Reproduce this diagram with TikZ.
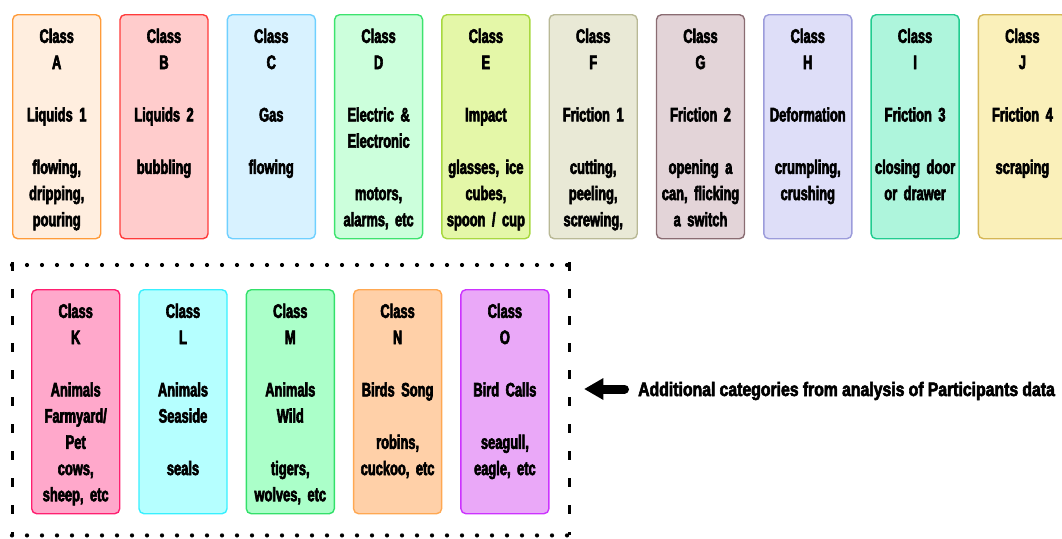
\documentclass[tikz,border=0pt]{standalone}
\usepackage{fontspec}
\newfontfamily\boxfont{Liberation Sans Bold}[FakeStretch=0.66, FakeBold=3]
\newfontfamily\notefont{Liberation Sans Bold}[FakeStretch=0.81, FakeBold=3]
\newcommand\boxtype{\boxfont\fontsize{19.5}{26.2}\selectfont\spaceskip=3.4pt\relax}
\newcommand\notetype{\notefont\fontsize{19.5}{22}\selectfont\spaceskip=4.2pt\relax}

% category colours: fill / border
\definecolor{fA}{HTML}{FFEEDF}\definecolor{sA}{HTML}{FF9B3A}
\definecolor{fB}{HTML}{FFCCCC}\definecolor{sB}{HTML}{FF3B3B}
\definecolor{fC}{HTML}{D8F2FF}\definecolor{sC}{HTML}{6FD0FF}
\definecolor{fD}{HTML}{CCFFDC}\definecolor{sD}{HTML}{3DE36E}
\definecolor{fE}{HTML}{E4F7A8}\definecolor{sE}{HTML}{A8D840}
\definecolor{fF}{HTML}{E9E9D6}\definecolor{sF}{HTML}{B9B996}
\definecolor{fG}{HTML}{E3D4D8}\definecolor{sG}{HTML}{8A6C72}
\definecolor{fH}{HTML}{DEDEF8}\definecolor{sH}{HTML}{9C9CDB}
\definecolor{fI}{HTML}{AEF5DC}\definecolor{sI}{HTML}{22CC90}
\definecolor{fJ}{HTML}{FAF0BA}\definecolor{sJ}{HTML}{D5B655}
\definecolor{fK}{HTML}{FFA8CB}\definecolor{sK}{HTML}{FF1F70}
\definecolor{fL}{HTML}{B5FFFF}\definecolor{sL}{HTML}{38F0FF}
\definecolor{fM}{HTML}{ABFFC9}\definecolor{sM}{HTML}{33E06A}
\definecolor{fN}{HTML}{FFD0A8}\definecolor{sN}{HTML}{FFA852}
\definecolor{fO}{HTML}{EAA8F8}\definecolor{sO}{HTML}{CC33FF}

\tikzset{
  classbox/.style={rectangle, rounded corners=5pt, line width=1.4pt,
    minimum width=88pt, minimum height=224pt, inner sep=0pt, anchor=north west},
  classtext/.style={anchor=north, inner sep=0pt, align=center, text width=88pt,
    font=\boxtype},
  dotline/.style={line width=4.2pt, line cap=round, dash pattern=on 0pt off 15pt},
  dashline/.style={line width=3pt, dash pattern=on 9pt off 18pt},
}

% \catbox{name}{left}{top}{colour key}{lines}
\newcommand\catbox[5]{%
  \node[classbox, fill=f#4, draw=s#4] (b#1) at (#2,#3) {};
  \node[classtext] (t#1) at ([yshift=-14.5pt]b#1.north) {#5};
}

\begin{document}
\begin{tikzpicture}[x=1pt, y=-1pt]
\useasboundingbox (0,0) rectangle (1062,538);

% sound classes from the original taxonomy
\catbox{A}{12}{14}{A}{Class\\A\\[26.2pt]Liquids 1\\[26.2pt]flowing,\\dripping,\\pouring}
\catbox{B}{119.3}{14}{B}{Class\\B\\[26.2pt]Liquids 2\\[26.2pt]bubbling}
\catbox{C}{226.6}{14}{C}{Class\\C\\[26.2pt]Gas\\[26.2pt]flowing}
\catbox{D}{333.9}{14}{D}{Class\\D\\[26.2pt]Electric \&\\Electronic\\[26.2pt]motors,\\alarms, etc}
\catbox{E}{441.2}{14}{E}{Class\\E\\[26.2pt]Impact\\[26.2pt]glasses, ice\\cubes,\\spoon / cup}
\catbox{F}{548.5}{14}{F}{Class\\F\\[26.2pt]Friction 1\\[26.2pt]cutting,\\peeling,\\screwing,}
\catbox{G}{655.8}{14}{G}{Class\\G\\[26.2pt]Friction 2\\[26.2pt]opening a\\can, flicking\\a switch}
\catbox{H}{763.1}{14}{H}{Class\\H\\[26.2pt]Deformation\\[26.2pt]crumpling,\\crushing}
\catbox{I}{870.4}{14}{I}{Class\\I\\[26.2pt]Friction 3\\[26.2pt]closing door\\or drawer}
\catbox{J}{977.7}{14}{J}{Class\\J\\[26.2pt]Friction 4\\[26.2pt]scraping}

% additional classes
\catbox{K}{31}{289}{K}{Class\\K\\[26.2pt]Animals\\Farmyard/\\Pet\\cows,\\sheep, etc}
\catbox{L}{138.3}{289}{L}{Class\\L\\[26.2pt]Animals\\Seaside\\[26.2pt]seals}
\catbox{M}{245.6}{289}{M}{Class\\M\\[26.2pt]Animals\\Wild\\[26.2pt]tigers,\\wolves, etc}
\catbox{N}{352.9}{289}{N}{Class\\N\\[26.2pt]Birds Song\\[26.2pt]robins,\\cuckoo, etc}
\catbox{O}{460.2}{289}{O}{Class\\O\\[26.2pt]Bird Calls\\[26.2pt]seagull,\\eagle, etc}

% frame around the additional classes
\node[rectangle, minimum width=557pt, minimum height=270pt, inner sep=0pt,
      anchor=north west] (grp) at (12,265) {};
\draw[dotline] (grp.north west) -- (grp.north east);
\draw[dotline] (grp.south west) -- (grp.south east);
\draw[dashline] ([yshift=3pt]grp.north west) -- (grp.south west);
\draw[dashline] ([yshift=3pt]grp.north east) -- (grp.south east);

% note with block arrow pointing at the frame
\node[anchor=base west, inner sep=0pt, font=\notetype]
  (note) at (638,396) {Additional categories from analysis of Participants data};
\coordinate (tip) at ([xshift=15pt]grp.east |- 0,389);
\coordinate (headbase) at ([xshift=19pt]tip);
\coordinate (tail) at ([xshift=-13.5pt]note.west |- tip);
\fill (tip) -- ([yshift=-11pt]headbase) -- ([yshift=11pt]headbase) -- cycle;
\draw[line width=9pt, line cap=round] ([xshift=-1pt]headbase) -- (tail);
\end{tikzpicture}
\end{document}
